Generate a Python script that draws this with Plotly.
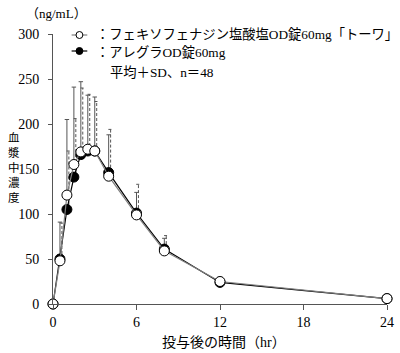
import plotly.graph_objects as go

# ---- data ----
times = [0, 0.5, 1, 1.5, 2, 2.5, 3, 4, 6, 8, 12, 24]
towa_mean = [0, 48, 121, 155, 169, 172, 170, 142, 99, 59, 25, 6]
towa_sd = [0, 43, 84, 86, 78, 60, 60, 46, 25, 14, 5, 0]
allegra_mean = [0, 50, 105, 141, 166, 170, 170, 146, 101, 61, 24, 6]
allegra_sd = [0, 40, 65, 65, 74, 63, 55, 48, 32, 15, 5, 0]
x_ticks = [0, 6, 12, 18, 24]
y_ticks = [0, 50, 100, 150, 200, 250, 300]
label_towa = "：フェキソフェナジン塩酸塩OD錠60mg「トーワ」"
label_allegra = "：アレグラOD錠60mg"
label_stat = "平均＋SD、n＝48"
y_title = "血漿中濃度"
x_title = "投与後の時間（hr）"
unit = "（ng/mL）"

W, H = 400, 353
X0, X1 = 53, 394   # pixel of x=0 and x=24
YB, YT = 304, 34   # pixel of y=0 and y=300

FONT = "'Liberation Serif', 'Noto Sans CJK JP', serif"
AX = "#555555"


def px(xp):
    return (xp - X0) / (X1 - X0)


def py(yp):
    return (YB - yp) / (YB - YT)


def err_lines(xs, ms, sds, dx, cap):
    ex, ey = [], []
    for x, m, s in zip(xs, ms, sds):
        if s <= 0:
            continue
        xx = x + dx
        ex += [xx, xx, None, xx - cap, xx + cap, None]
        ey += [m, m + s, None, m + s, m + s, None]
    return ex, ey


fig = go.Figure()

ex, ey = err_lines(times, towa_mean, towa_sd, 0.0, 0.16)
fig.add_trace(go.Scatter(x=ex, y=ey, mode="lines", line=dict(color="#555555", width=1),
                         hoverinfo="skip", showlegend=False, cliponaxis=False))
ex, ey = err_lines(times, allegra_mean, allegra_sd, 0.14, 0.16)
fig.add_trace(go.Scatter(x=ex, y=ey, mode="lines", line=dict(color="#555555", width=1, dash="3px,2px"),
                         hoverinfo="skip", showlegend=False, cliponaxis=False))

fig.add_trace(go.Scatter(x=times, y=allegra_mean, mode="lines+markers",
                         line=dict(color="#000000", width=1.2),
                         marker=dict(symbol="circle", size=10, color="#000000",
                                     line=dict(color="#000000", width=1)),
                         showlegend=False, cliponaxis=False))
fig.add_trace(go.Scatter(x=times, y=towa_mean, mode="lines+markers",
                         line=dict(color="#7f7f7f", width=1.2),
                         marker=dict(symbol="circle", size=10, color="#ffffff",
                                     line=dict(color="#000000", width=1)),
                         showlegend=False, cliponaxis=False))

shapes = []
ann = []
# custom legend
for yrow, lc, fc in [(35, "#7f7f7f", "#ffffff"), (51, "#000000", "#000000")]:
    shapes.append(dict(type="line", xref="paper", yref="paper", x0=px(72), x1=px(88),
                       y0=py(yrow), y1=py(yrow), line=dict(color=lc, width=1.2)))
    shapes.append(dict(type="circle", xref="paper", yref="paper", x0=px(76.5), x1=px(83.5),
                       y0=py(yrow + 3.5), y1=py(yrow - 3.5), fillcolor=fc,
                       line=dict(color="#000000", width=1)))


def add_ann(text, x, y, size, xanchor="left"):
    ann.append(dict(text=text, x=px(x), y=py(y), xanchor=xanchor, yanchor="middle",
                    xref="paper", yref="paper", showarrow=False,
                    font=dict(family=FONT, size=size, color="#000000")))


add_ann(label_towa, 95, 35, 13.3)
add_ann(label_allegra, 95, 52, 13.3)
add_ann(label_stat, 109, 72, 13.3)
add_ann(unit, 23, 13, 13)
add_ann(x_title, 228, 342, 14, "center")
add_ann("<br>".join(y_title), 13, 167, 11.5, "center")

fig.update_layout(
    width=W, height=H,
    margin=dict(l=X0, r=W - X1, t=YT, b=H - YB, pad=0),
    paper_bgcolor="#ffffff", plot_bgcolor="#ffffff",
    shapes=shapes, annotations=ann, showlegend=False,
    xaxis=dict(range=[0, 24], tickvals=x_ticks, ticktext=[str(v) for v in x_ticks],
               showgrid=False, zeroline=False, showline=True, linecolor=AX, linewidth=1,
               ticks="outside", ticklen=5, tickcolor=AX, tickwidth=1,
               ticklabeloverflow="allow",
               tickfont=dict(family=FONT, size=14, color="#000000")),
    yaxis=dict(range=[0, 300], tickvals=y_ticks, ticktext=[str(v) for v in y_ticks],
               showgrid=False, zeroline=False, showline=True, linecolor=AX, linewidth=1,
               ticks="outside", ticklen=4, tickcolor=AX, tickwidth=1,
               ticklabelstandoff=6,
               tickfont=dict(family=FONT, size=14, color="#000000")),
)

fig.write_html("out.html")
